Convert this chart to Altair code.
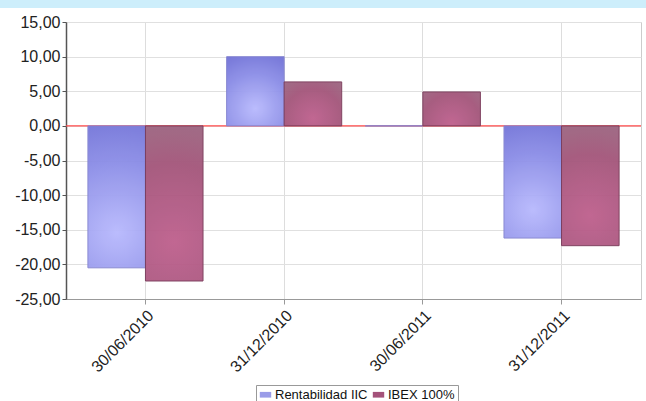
import altair as alt
import pandas as pd

fechas = ["30/06/2010", "31/12/2010", "30/06/2011", "31/12/2011"]
series = ["Rentabilidad IIC", "IBEX 100%"]
rentabilidad = [-20.5, 10.0, 0.0, -16.2]
ibex = [-22.4, 6.35, 4.9, -17.3]
y_ticks = [-25, -20, -15, -10, -5, 0, 5, 10, 15]

rows = []
for f, r, i in zip(fechas, rentabilidad, ibex):
    rows.append({"fecha": f, "serie": series[0], "valor": r})
    rows.append({"fecha": f, "serie": series[1], "valor": i})
df = pd.DataFrame(rows)

FONT = "Liberation Sans"

x_enc = alt.X(
    "fecha:N", sort=fechas,
    scale=alt.Scale(paddingInner=0.17, paddingOuter=0.158),
    axis=alt.Axis(title=None, labelAngle=-45, grid=True, gridColor="#dddddd",
                  labelFontSize=16, labelFont=FONT, labelColor="#222222",
                  tickColor="#999999", tickSize=5, domainColor="#999999",
                  labelPadding=3, labelOverlap=False),
)
xo_enc = alt.XOffset("serie:N", sort=series, scale=alt.Scale(paddingInner=0, paddingOuter=0))
y_enc = alt.Y(
    "valor:Q",
    scale=alt.Scale(domain=[-25, 15], nice=False, zero=False),
    axis=alt.Axis(title=None, values=y_ticks, tickCount=20, grid=True, gridColor="#e0e0e0",
                  labelExpr="replace(replace(format(datum.value, '.2f'), '.', ','), '\u2212', '-')",
                  labelFontSize=16, labelFont=FONT, labelColor="#222222",
                  tickColor="#555555", tickSize=4, domainColor="#555555",
                  domainWidth=1.5, labelPadding=2, labelOverlap=False,
                  labelFlush=False),
)

base = alt.Chart(df)

legend_layer = base.mark_bar(opacity=0).encode(
    x=x_enc, xOffset=xo_enc, y=y_enc,
    color=alt.Color("serie:N", sort=series,
                    scale=alt.Scale(domain=series, range=["#9a9ce8", "#a4527a"]),
                    legend=alt.Legend(title=None, orient="none", legendX=190, legendY=363,
                                      direction="horizontal", labelFont=FONT, labelFontSize=13,
                                      labelColor="#111111", symbolType="M-1,-0.5H1V0.5H-1Z",
                                      symbolSize=130, symbolOpacity=1, symbolStrokeWidth=1,
                                      strokeColor="#999999", fillColor="white", padding=3,
                                      columnPadding=4, symbolOffset=0, labelOffset=3)),
)

zero_rule = base.mark_rule(color="#ff4a4a", strokeWidth=1.2).encode(
    y=alt.datum(0)
).transform_filter(alt.datum.serie == series[0]).transform_filter(alt.datum.fecha == fechas[0])

grad_rent = {
    "gradient": "radial", "x1": 0.5, "y1": 0.75, "r1": 0,
    "x2": 0.5, "y2": 0.75, "r2": 0.85,
    "stops": [{"offset": 0, "color": "#b8b9fd"}, {"offset": 0.6, "color": "#8a8ce6"},
              {"offset": 1, "color": "#6f70d6"}],
}
grad_ibex = {
    "gradient": "radial", "x1": 0.5, "y1": 0.75, "r1": 0,
    "x2": 0.5, "y2": 0.75, "r2": 0.85,
    "stops": [{"offset": 0, "color": "#be5f8d"}, {"offset": 0.6, "color": "#a3557a"},
              {"offset": 1, "color": "#9a6a82"}],
}

rent_layer = base.transform_filter(alt.datum.serie == series[0]).mark_bar(
    fill=grad_rent, stroke="#8585d0", strokeWidth=1, opacity=0.95
).encode(x=x_enc, xOffset=xo_enc, y=y_enc)

ibex_layer = base.transform_filter(alt.datum.serie == series[1]).mark_bar(
    fill=grad_ibex, stroke="#7a3a5a", strokeWidth=1, opacity=0.95
).encode(x=x_enc, xOffset=xo_enc, y=y_enc)

band = alt.Chart(pd.DataFrame({"a": [0]})).mark_rect(color="#cdeefb").encode(
    x=alt.value(-66), x2=alt.value(580), y=alt.value(-22), y2=alt.value(-14)
)

chart = alt.layer(legend_layer, band, zero_rule, rent_layer, ibex_layer).properties(
    width=575, height=277,
    autosize=alt.AutoSizeParams(type="none"),
    padding={"left": 66, "top": 22, "right": 5, "bottom": 102},
    background="white",
).configure_view(stroke="#cccccc", strokeWidth=1)

chart.save("out.html", embed_options={"renderer": "svg", "actions": False})
